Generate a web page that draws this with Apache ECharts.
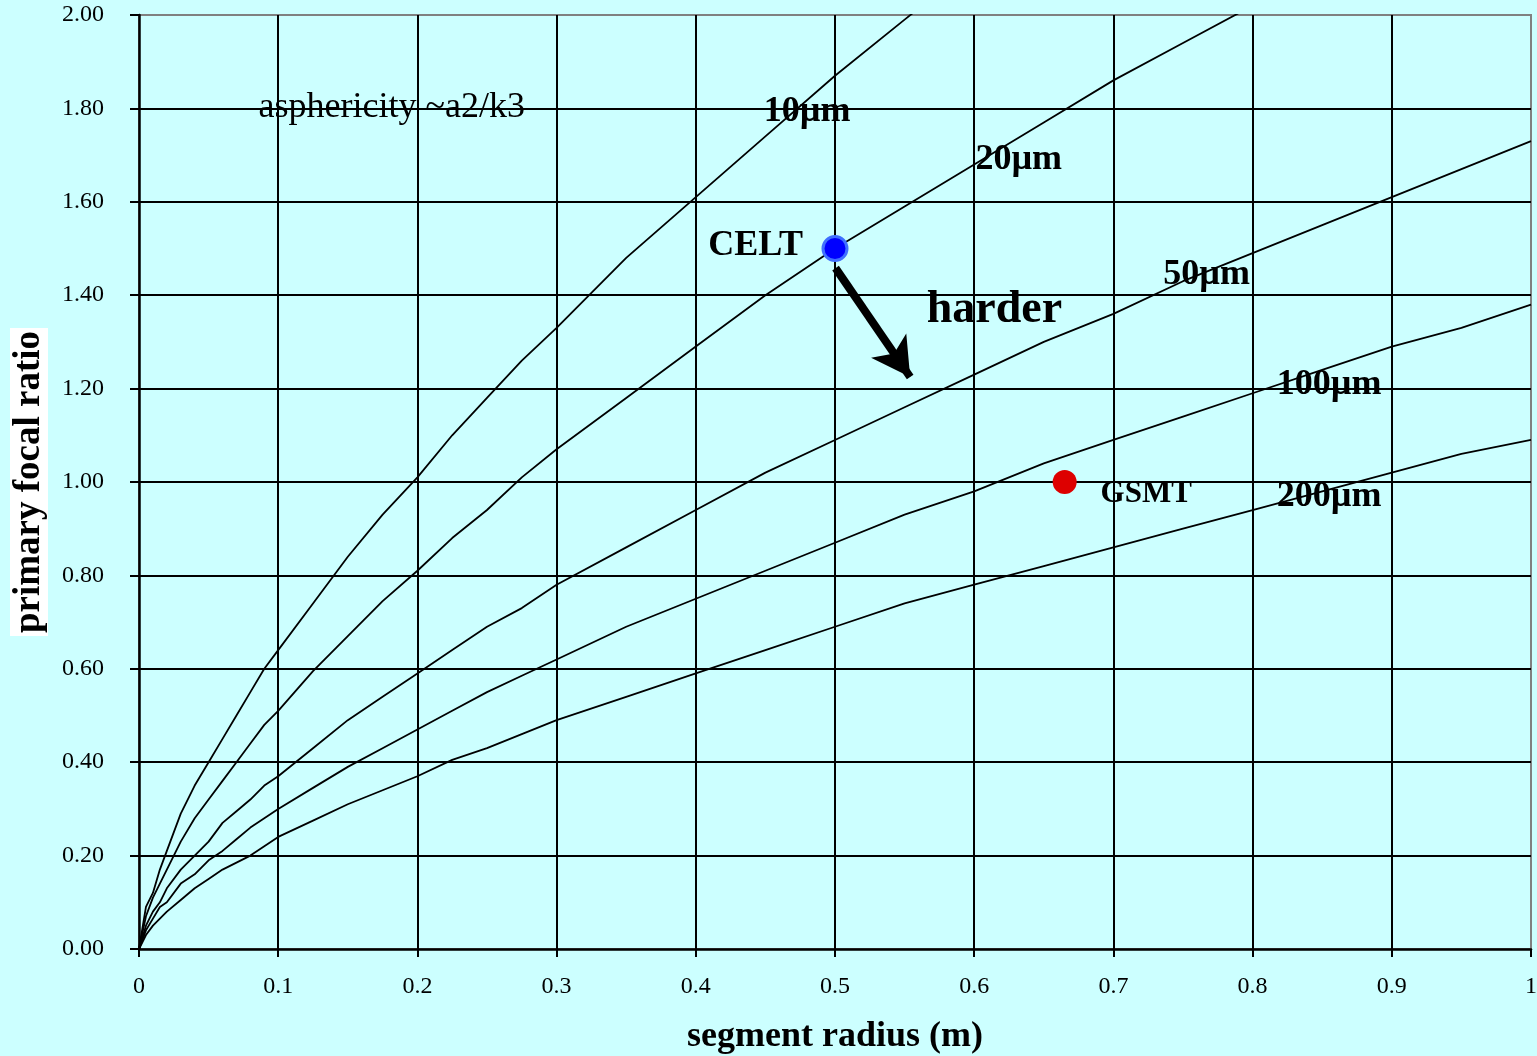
<!DOCTYPE html>
<html>
<head>
<meta charset="utf-8">
<script src="https://cdn.jsdelivr.net/npm/echarts@6/dist/echarts.min.js"></script>
<style>
html,body{margin:0;padding:0;background:#CCFFFF;}
#chart{width:1537px;height:1056px;}
</style>
</head>
<body>
<div id="chart"></div>
<script>
// segment radius (m)
var radius = [0, 0.005, 0.01, 0.015, 0.02, 0.03, 0.04, 0.05, 0.06, 0.07, 0.08, 0.09, 0.1, 0.125, 0.15, 0.175, 0.2, 0.225, 0.25, 0.275, 0.3, 0.35, 0.4, 0.45, 0.5, 0.55, 0.6, 0.65, 0.7, 0.75, 0.8, 0.85, 0.9, 0.95, 1.0];
// primary focal ratio for each asphericity level
var f10um  = [0, 0.09, 0.12, 0.17, 0.21, 0.29, 0.35, 0.40, 0.45, 0.50, 0.55, 0.60, 0.64, 0.74, 0.84, 0.93, 1.01, 1.10, 1.18, 1.26, 1.33, 1.48, 1.61, 1.74, 1.87, 1.99, 2.11, null, null, null, null, null, null, null, null];
var f20um  = [0, 0.07, 0.11, 0.14, 0.17, 0.23, 0.28, 0.32, 0.36, 0.40, 0.44, 0.48, 0.51, 0.595, 0.67, 0.745, 0.81, 0.88, 0.94, 1.01, 1.07, 1.18, 1.29, 1.40, 1.50, 1.59, 1.68, 1.77, 1.86, 1.94, 2.02, 2.10, null, null, null];
var f50um  = [0, 0.05, 0.08, 0.10, 0.13, 0.17, 0.20, 0.23, 0.27, 0.295, 0.32, 0.35, 0.37, 0.43, 0.49, 0.54, 0.59, 0.64, 0.69, 0.73, 0.78, 0.86, 0.94, 1.02, 1.09, 1.16, 1.23, 1.30, 1.36, 1.43, 1.49, 1.55, 1.61, 1.67, 1.73];
var f100um = [0, 0.04, 0.065, 0.09, 0.10, 0.14, 0.16, 0.19, 0.21, 0.235, 0.26, 0.28, 0.30, 0.345, 0.39, 0.43, 0.47, 0.51, 0.55, 0.585, 0.62, 0.69, 0.75, 0.81, 0.87, 0.93, 0.98, 1.04, 1.09, 1.14, 1.19, 1.24, 1.29, 1.33, 1.38];
var f200um = [0, 0.03, 0.05, 0.065, 0.08, 0.105, 0.13, 0.15, 0.17, 0.185, 0.20, 0.22, 0.24, 0.275, 0.31, 0.34, 0.37, 0.405, 0.43, 0.46, 0.49, 0.54, 0.59, 0.64, 0.69, 0.74, 0.78, 0.82, 0.86, 0.90, 0.94, 0.98, 1.02, 1.06, 1.09];

// telescopes
var siteNames = ['CELT', 'GSMT'];
var siteX = [0.5, 0.665];
var siteY = [1.5, 1.0];

// curve labels and annotations
var annoText = ['10µm', '20µm', '50µm', '100µm', '200µm', 'CELT', 'harder', 'GSMT', 'asphericity ~a2/k3'];
var annoX = [0.480, 0.632, 0.767, 0.855, 0.855, 0.443, 0.6145, 0.7236, 0.1816];
var annoY = [1.792, 1.690, 1.443, 1.208, 0.968, 1.507, 1.368, 0.974, 1.801];

// arrow "harder"
var arrowFrom = [0.5004, 1.458];
var arrowTo = [0.554, 1.225];

var FONT = 'Liberation Serif';

function pairs(ys) {
  var out = [];
  for (var i = 0; i < radius.length; i++) out.push([radius[i], ys[i]]);
  return out;
}

var curveStyle = { color: '#000', width: 1.8 };
function curve(name, ys) {
  return {
    name: name, type: 'line', data: pairs(ys), showSymbol: false, symbol: 'none',
    smooth: false, clip: true, connectNulls: false, silent: true,
    lineStyle: curveStyle, itemStyle: { color: '#000' }, z: 3
  };
}

var annoStyles = {
  'asphericity ~a2/k3': { fontSize: 36, fontWeight: 'normal' },
  'harder': { fontSize: 46, fontWeight: 'bold' },
  'GSMT': { fontSize: 31, fontWeight: 'bold' }
};
var annoData = annoText.map(function (t, i) {
  var st = annoStyles[t] || { fontSize: 36, fontWeight: 'bold' };
  return {
    value: [annoX[i], annoY[i]],
    label: {
      show: true, position: 'inside', formatter: t, color: '#000', opacity: 1,
      textBorderWidth: 0, textShadowBlur: 0,
      fontFamily: FONT, fontSize: st.fontSize, fontWeight: st.fontWeight,
      align: 'center', verticalAlign: 'middle'
    }
  };
});

var siteColors = [
  { color: '#0000FF', borderColor: '#3F6FFF', borderWidth: 3, opacity: 1 },
  { color: '#DD0000', borderColor: '#DD0000', borderWidth: 0, opacity: 1 }
];
var siteData = siteNames.map(function (n, i) {
  return { name: n, value: [siteX[i], siteY[i]], itemStyle: siteColors[i] };
});

var chart = echarts.init(document.getElementById('chart'), null, { renderer: 'canvas' });
chart.setOption({
  backgroundColor: '#CCFFFF',
  animation: false,
  textStyle: { fontFamily: FONT },
  grid: {
    left: 139, right: 6, top: 15, bottom: 107,
    containLabel: false, outerBoundsMode: 'none',
    show: true, backgroundColor: '#CCFFFF', borderColor: '#808080', borderWidth: 2
  },
  xAxis: {
    type: 'value', min: 0, max: 1, interval: 0.1,
    name: 'segment radius (m)', nameLocation: 'middle', nameGap: 70,
    nameTextStyle: { fontFamily: FONT, fontSize: 36, fontWeight: 'bold', color: '#000' },
    axisLine: { show: true, onZero: false, lineStyle: { color: '#000', width: 2.5 } },
    axisTick: { show: true, inside: false, length: 8, lineStyle: { color: '#000', width: 2 } },
    axisLabel: { fontFamily: FONT, fontSize: 24, color: '#000', margin: 26 },
    splitLine: { show: true, showMinLine: false, showMaxLine: false, lineStyle: { color: '#000', width: 2 } }
  },
  yAxis: {
    type: 'value', min: 0, max: 2, interval: 0.2,
    name: 'primary focal ratio', nameLocation: 'middle', nameGap: 91, nameRotate: 90,
    nameTextStyle: { fontFamily: FONT, fontSize: 37, fontWeight: 'bold', color: '#000',
      backgroundColor: '#FFFFFF', padding: [1, 3, 0, 3] },
    axisLine: { show: true, onZero: false, lineStyle: { color: '#000', width: 2.5 } },
    axisTick: { show: true, inside: false, length: 9, lineStyle: { color: '#000', width: 2 } },
    axisLabel: { fontFamily: FONT, fontSize: 24, color: '#000', margin: 35,
      formatter: function (v) { return v.toFixed(2); } },
    splitLine: { show: true, showMinLine: false, showMaxLine: false, lineStyle: { color: '#000', width: 2 } }
  },
  series: [
    curve('10µm', f10um),
    curve('20µm', f20um),
    curve('50µm', f50um),
    curve('100µm', f100um),
    curve('200µm', f200um),
    {
      name: 'arrow', type: 'line', data: [], silent: true, z: 5,
      markLine: {
        silent: true, animation: false,
        symbol: ['none', 'arrow'], symbolSize: [32, 38],
        label: { show: false },
        lineStyle: { color: '#000', width: 8, type: 'solid', opacity: 1 },
        itemStyle: { color: '#000' },
        emphasis: { disabled: true },
        data: [[{ coord: arrowFrom }, { coord: arrowTo }]]
      }
    },
    {
      name: 'sites', type: 'scatter', data: siteData, symbol: 'circle', symbolSize: 24,
      silent: true, z: 6, label: { show: false }, itemStyle: { opacity: 1 }
    },
    {
      name: 'annotations', type: 'scatter', data: annoData, symbolSize: 0,
      silent: true, z: 7, itemStyle: { color: 'transparent', opacity: 1 }
    }
  ]
});
</script>
</body>
</html>
